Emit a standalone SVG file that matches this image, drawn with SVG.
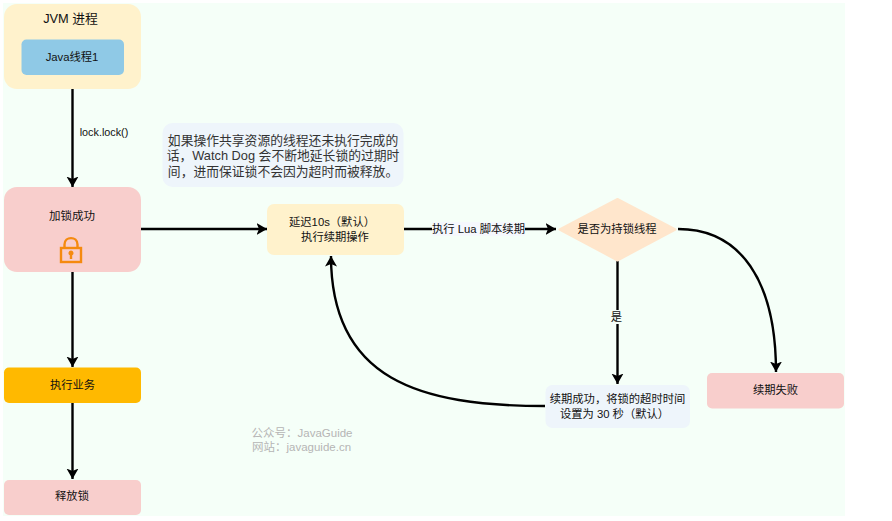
<svg xmlns="http://www.w3.org/2000/svg" width="892" height="521" viewBox="0 0 892 521">
<style>
text{font-family:"Liberation Sans","Noto Sans CJK SC",sans-serif;font-size:11.300px;fill:#111;text-anchor:middle}
.e{fill:none;stroke:#000;stroke-width:2.400}
.lg{font-size:11.500px}
.jv{font-size:12.800px}
.n{font-size:12.800px;fill:#333}
.wm{fill:#b5b5b5;font-size:11.500px}
.lb{font-size:10.800px}
</style>
<defs>
<marker id="a" markerUnits="userSpaceOnUse" markerWidth="13" markerHeight="13" refX="10.500" refY="6" orient="auto"><path d="M0 0L10.500 6L0 12L2.500 6Z" fill="#000"/></marker>
</defs>
<rect x="3" y="3" width="842" height="513" fill="#f5fff8"/>
<g id="connectors">
<path class="e" d="M72.500 75V187" marker-end="url(#a)"/>
<path class="e" d="M141 229H267" marker-end="url(#a)"/>
<path class="e" d="M72.500 272V367" marker-end="url(#a)"/>
<path class="e" d="M72.500 403V479" marker-end="url(#a)"/>
<path class="e" d="M404 229H556" marker-end="url(#a)"/>
<path class="e" d="M617.500 261V384" marker-end="url(#a)"/>
<path class="e" d="M678 229C740 229 776 280 776 372" marker-end="url(#a)"/>
<path class="e" d="M545 406C420 406 331 380 331 256" marker-end="url(#a)"/>
<rect x="432" y="222" width="93" height="14" fill="#f5f8fd"/>
<rect x="611" y="310" width="12" height="14" fill="#f5fff8"/>
<text x="478.500" y="233">执行 Lua 脚本续期</text>
<text x="616.500" y="321">是</text>
<text class="lb" x="104" y="136">lock.lock()</text>
</g>
<g id="jvm"><rect x="4" y="4" width="137" height="85" rx="13" fill="#fff2cc"/><text class="jv" x="70.500" y="23">JVM 进程</text></g>
<g id="thread"><rect x="21.500" y="39.500" width="102.500" height="35.500" rx="5" fill="#8fc9e6"/><text x="72" y="61">Java线程1</text></g>
<g id="locked"><rect x="4" y="187" width="137" height="85" rx="13" fill="#f8cecc"/><text class="lg" x="72" y="220">加锁成功</text>
<g fill="none" stroke="#f58a0f" stroke-width="2.400"><rect x="61" y="248" width="20" height="14"/><path d="M64.500 248V244.500C64.500 236 77.500 236 77.500 244.500V248"/></g><path d="M71 250.500a2.500 2.500 0 0 1 1.200 4.700V259h-2.400v-3.800a2.500 2.500 0 0 1 1.200-4.700Z" fill="#f58a0f"/></g>
<g id="work"><rect x="4" y="367.500" width="137" height="35.500" rx="5" fill="#ffb900"/><text x="72.500" y="388.500">执行业务</text></g>
<g id="release"><rect x="4" y="480" width="137" height="35" rx="5" fill="#f8cecc"/><text x="72" y="500">释放锁</text></g>
<g id="note"><rect x="162.500" y="123" width="241" height="64" rx="10" fill="#eef5fb"/><text class="n" x="283" y="144.500">如果操作共享资源的线程还未执行完成的</text><text class="n" x="283" y="160">话，Watch Dog 会不断地延长锁的过期时</text><text class="n" x="283" y="176">间，进而保证锁不会因为超时而被释放。</text></g>
<g id="renew"><rect x="267" y="204" width="137" height="51" rx="7" fill="#fff2cc"/><text x="332" y="226">延迟10s（默认）</text><text x="335" y="241">执行续期操作</text></g>
<g id="check"><path d="M559.500 229.500L617.500 199L675.500 229.500L617.500 260.500Z" fill="#ffe6cc" stroke="#ffe6cc" stroke-width="2" stroke-linejoin="round"/><text x="617" y="233">是否为持锁线程</text></g>
<g id="success"><rect x="545.500" y="385" width="144.500" height="43" rx="7" fill="#eef5fb"/><text x="617.500" y="403">续期成功，将锁的超时时间</text><text x="614.500" y="418">设置为 30 秒（默认）</text></g>
<g id="fail"><rect x="707" y="373" width="137" height="35.500" rx="5" fill="#f8cecc"/><text x="775.500" y="394">续期失败</text></g>
<g id="watermark"><text class="wm" x="302" y="437">公众号：JavaGuide</text><text class="wm" x="301.500" y="451">网站：javaguide.cn</text></g>
</svg>
